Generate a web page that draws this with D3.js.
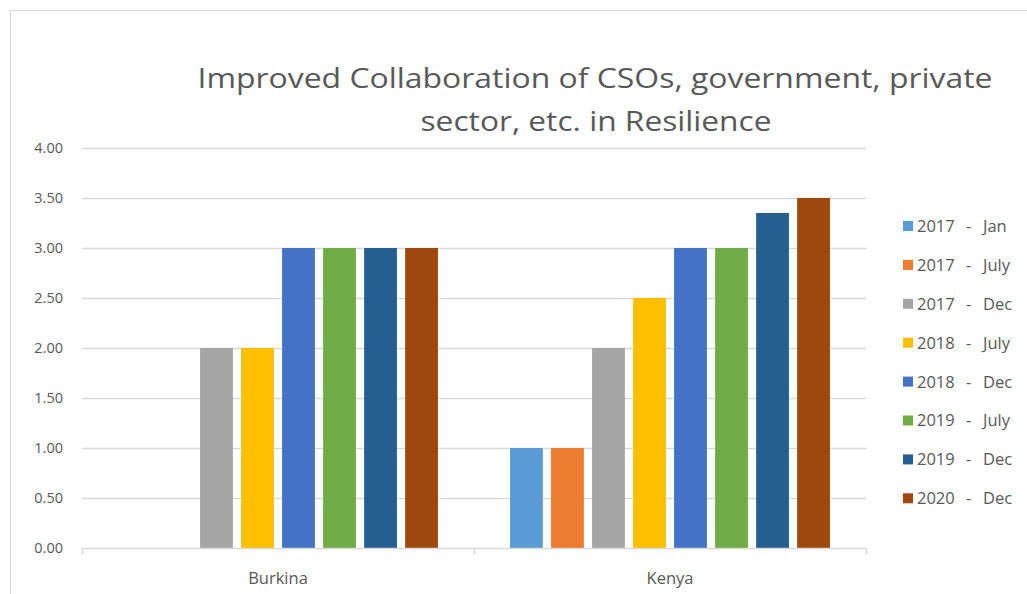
<!DOCTYPE html>
<html>
<head>
<meta charset="utf-8">
<script src="https://cdn.jsdelivr.net/npm/d3@7"></script>
<style>
  body { margin: 0; background: #fff; }
  text { font-family: "Open Sans", "Noto Sans", sans-serif; fill: #595959; }
</style>
</head>
<body>
<svg id="chart" width="1027" height="594"></svg>
<script>
"use strict"

// categories and series
var countries = ["Burkina", "Kenya"];
var periodYears = ["2017", "2017", "2017", "2018", "2018", "2019", "2019", "2020"];
var periodMonths = ["Jan", "July", "Dec", "July", "Dec", "July", "Dec", "Dec"];
var colors = ["#5B9BD5", "#ED7D31", "#A5A5A5", "#FFC000", "#4472C4", "#70AD47", "#255E91", "#9E480E"];

// one array per country, one value per period (null = no bar)
var burkinaValues = [null, null, 2.0, 2.0, 3.0, 3.0, 3.0, 3.0];
var kenyaValues = [1.0, 1.0, 2.0, 2.5, 3.0, 3.0, 3.35, 3.5];

var yTicks = [0, 0.5, 1, 1.5, 2, 2.5, 3, 3.5, 4];

var valuesByCountry = { "Burkina": burkinaValues, "Kenya": kenyaValues };

var svg = d3.select("#chart");

var plot = { left: 82, right: 866, top: 148, bottom: 548 };

// chart frame
svg.append("path")
    .attr("d", "M10.5,600 V10.5 H1040")
    .attr("fill", "none")
    .attr("stroke", "#d9d9d9")
    .attr("stroke-width", 1);

var x0 = d3.scaleBand()
    .domain(countries)
    .range([plot.left, plot.right])
    .paddingInner(0.163)
    .paddingOuter(0.0815);

var x1 = d3.scaleBand()
    .domain(d3.range(periodYears.length))
    .range([0, x0.bandwidth()])
    .paddingInner(0.2)
    .paddingOuter(0.1);

var y = d3.scaleLinear()
    .domain([0, 4])
    .range([plot.bottom, plot.top]);

// gridlines
svg.append("g")
    .selectAll("line")
    .data(yTicks.slice(1))
    .enter().append("line")
    .attr("x1", plot.left)
    .attr("x2", plot.right)
    .attr("y1", function(d) { return Math.round(y(d)) + 0.5; })
    .attr("y2", function(d) { return Math.round(y(d)) + 0.5; })
    .attr("stroke", "#d9d9d9")
    .attr("stroke-width", 1.5);

// y labels
svg.append("g")
    .selectAll("text")
    .data(yTicks)
    .enter().append("text")
    .attr("x", 63)
    .attr("y", function(d) { return y(d); })
    .attr("dy", "0.36em")
    .attr("text-anchor", "end")
    .style("font-size", "14.5px")
    .text(function(d) { return d3.format(".2f")(d); });

// bars
var groups = svg.append("g")
    .selectAll("g")
    .data(countries)
    .enter().append("g")
    .attr("transform", function(d) { return "translate(" + x0(d) + ",0)"; });

groups.selectAll("rect")
    .data(function(c) {
        return valuesByCountry[c].map(function(v, i) { return { i: i, v: v }; })
            .filter(function(d) { return d.v !== null; });
    })
    .enter().append("rect")
    .attr("x", function(d) { return x1(d.i); })
    .attr("width", x1.bandwidth())
    .attr("y", function(d) { return y(d.v); })
    .attr("height", function(d) { return y(0) - y(d.v); })
    .attr("fill", function(d) { return colors[d.i]; });

// x axis
var xAxis = svg.append("g");
xAxis.append("line")
    .attr("x1", plot.left).attr("x2", plot.right)
    .attr("y1", plot.bottom + 0.5).attr("y2", plot.bottom + 0.5)
    .attr("stroke", "#d9d9d9")
    .attr("stroke-width", 1.5);

var boundaries = [plot.left, (plot.left + plot.right) / 2, plot.right];
xAxis.selectAll(".tick")
    .data(boundaries)
    .enter().append("line")
    .attr("x1", function(d) { return Math.round(d) + 0.5; })
    .attr("x2", function(d) { return Math.round(d) + 0.5; })
    .attr("y1", plot.bottom)
    .attr("y2", plot.bottom + 6)
    .attr("stroke", "#d9d9d9")
    .attr("stroke-width", 1.5);

xAxis.selectAll("text")
    .data(countries)
    .enter().append("text")
    .attr("x", function(d) { return x0(d) + x0.bandwidth() / 2; })
    .attr("y", 584)
    .attr("text-anchor", "middle")
    .style("font-size", "16.5px")
    .text(function(d) { return d; });

// title
var title = svg.append("text")
    .attr("text-anchor", "middle")
    .style("font-size", "28px");
title.append("tspan").attr("x", 595).attr("y", 88)
    .attr("textLength", 795).attr("lengthAdjust", "spacingAndGlyphs")
    .text("Improved Collaboration of CSOs, government, private");
title.append("tspan").attr("x", 596).attr("y", 131)
    .attr("textLength", 351).attr("lengthAdjust", "spacingAndGlyphs")
    .text("sector, etc. in Resilience");

// legend
var legend = svg.append("g")
    .selectAll("g")
    .data(periodYears)
    .enter().append("g")
    .attr("transform", function(d, i) { return "translate(903," + (226 + i * 38.9) + ")"; });

legend.append("rect")
    .attr("x", 0).attr("y", -5)
    .attr("width", 10).attr("height", 10)
    .attr("fill", function(d, i) { return colors[i]; });

legend.append("text")
    .attr("x", 14)
    .attr("dy", "0.36em")
    .style("font-size", "16.5px")
    .text(function(d) { return d; });

legend.append("text")
    .attr("x", 63)
    .attr("dy", "0.36em")
    .style("font-size", "16.5px")
    .text("-");

legend.append("text")
    .attr("x", 80)
    .attr("dy", "0.36em")
    .style("font-size", "16.5px")
    .text(function(d, i) { return periodMonths[i]; });
</script>
</body>
</html>
